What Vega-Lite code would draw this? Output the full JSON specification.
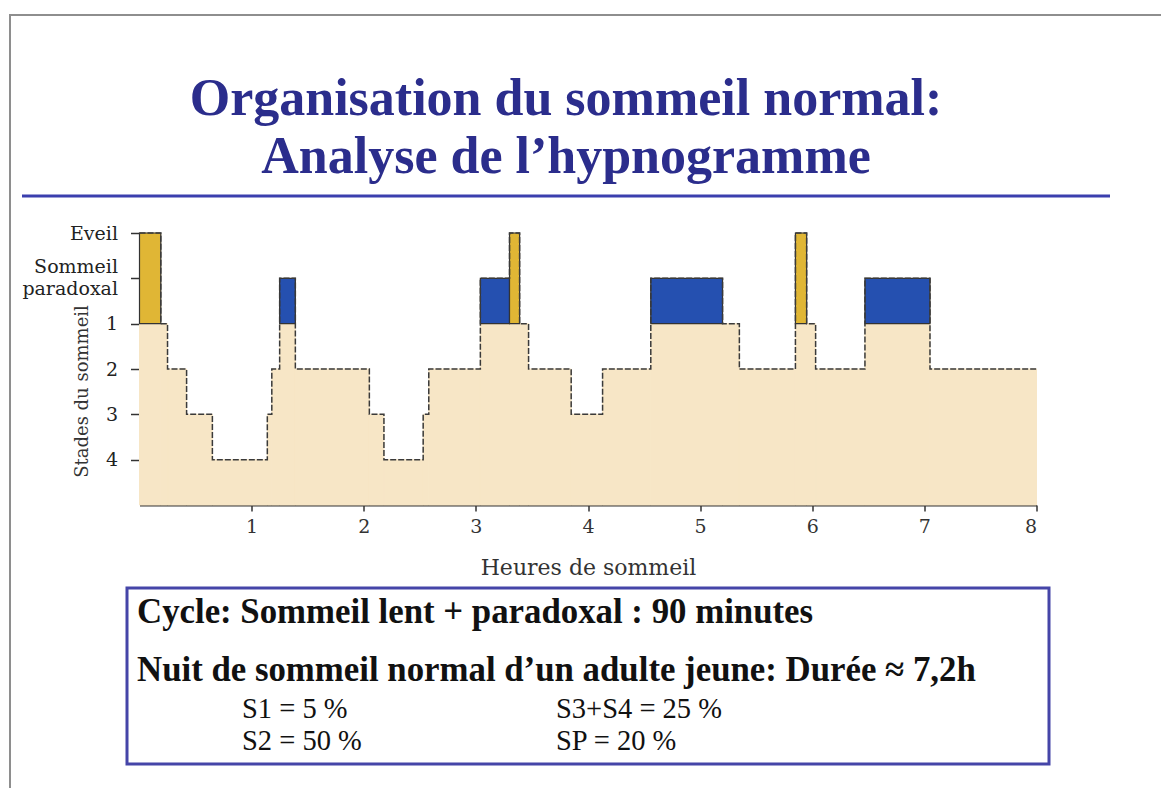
{
  "$schema": "https://vega.github.io/schema/vega-lite/v6.json",
  "autosize": {"type": "pad"},
  "padding": {"left": 7, "top": 12, "right": 0, "bottom": 0},
  "background": "white",
  "config": {"view": {"stroke": null}},
  "spacing": 0,
  "bounds": "flush",
  "vconcat": [
    {
      "width": 1154,
      "height": 2,
      "view": {"fill": "#8e8e8e", "stroke": null},
      "data": {"values": [{}]},
      "mark": {"type": "point", "opacity": 0},
      "encoding": {}
    },
    {
      "spacing": 0,
      "bounds": "flush",
      "hconcat": [
        {
          "width": 2,
          "height": 772,
          "view": {"fill": "#8e8e8e", "stroke": null},
          "data": {"values": [{}]},
          "mark": {"type": "point", "opacity": 0},
          "encoding": {}
        },
        {
          "width": 11,
          "height": 1,
          "data": {"values": []},
          "mark": {"type": "point", "opacity": 0},
          "encoding": {}
        },
        {
          "spacing": 35.5,
          "bounds": "flush",
          "vconcat": [
            {
              "width": 1,
              "height": 142.5,
              "data": {"values": []},
              "mark": {"type": "point", "opacity": 0},
              "encoding": {}
            },
            {
              "width": 1088,
              "height": 3,
              "view": {"fill": "#3b3fae", "stroke": null},
              "data": {"values": [{}]},
              "mark": {"type": "point", "opacity": 0},
              "encoding": {},
              "title": {
                "text": ["Organisation du sommeil normal:", "Analyse de l’hypnogramme"],
                "font": "Liberation Serif",
                "fontSize": 52,
                "fontWeight": "bold",
                "color": "#2b2d8c",
                "anchor": "middle",
                "lineHeight": 58,
                "offset": 9
              }
            },
            {
              "spacing": 0,
              "bounds": "flush",
              "hconcat": [
                {
                  "width": 105,
                  "height": 1,
                  "data": {"values": []},
                  "mark": {"type": "point", "opacity": 0},
                  "encoding": {}
                },
                {
                  "spacing": 83,
                  "center": true,
                  "bounds": "flush",
                  "vconcat": [
                    {
                      "width": 897,
                      "height": 272,
                      "data": {
                        "values": [
                          {"start": 0.00, "end": 0.19, "stage": "Eveil", "depth": 0},
                          {"start": 0.19, "end": 0.25, "stage": "S1", "depth": 2},
                          {"start": 0.25, "end": 0.42, "stage": "S2", "depth": 3},
                          {"start": 0.42, "end": 0.65, "stage": "S3", "depth": 4},
                          {"start": 0.65, "end": 1.14, "stage": "S4", "depth": 5},
                          {"start": 1.14, "end": 1.18, "stage": "S3", "depth": 4},
                          {"start": 1.18, "end": 1.25, "stage": "S2", "depth": 3},
                          {"start": 1.25, "end": 1.39, "stage": "SP", "depth": 1},
                          {"start": 1.39, "end": 2.05, "stage": "S2", "depth": 3},
                          {"start": 2.05, "end": 2.18, "stage": "S3", "depth": 4},
                          {"start": 2.18, "end": 2.53, "stage": "S4", "depth": 5},
                          {"start": 2.53, "end": 2.58, "stage": "S3", "depth": 4},
                          {"start": 2.58, "end": 3.04, "stage": "S2", "depth": 3},
                          {"start": 3.04, "end": 3.30, "stage": "SP", "depth": 1},
                          {"start": 3.30, "end": 3.39, "stage": "Eveil", "depth": 0},
                          {"start": 3.39, "end": 3.47, "stage": "S1", "depth": 2},
                          {"start": 3.47, "end": 3.85, "stage": "S2", "depth": 3},
                          {"start": 3.85, "end": 4.13, "stage": "S3", "depth": 4},
                          {"start": 4.13, "end": 4.56, "stage": "S2", "depth": 3},
                          {"start": 4.56, "end": 5.20, "stage": "SP", "depth": 1},
                          {"start": 5.20, "end": 5.35, "stage": "S1", "depth": 2},
                          {"start": 5.35, "end": 5.85, "stage": "S2", "depth": 3},
                          {"start": 5.85, "end": 5.95, "stage": "Eveil", "depth": 0},
                          {"start": 5.95, "end": 6.03, "stage": "S1", "depth": 2},
                          {"start": 6.03, "end": 6.47, "stage": "S2", "depth": 3},
                          {"start": 6.47, "end": 7.05, "stage": "SP", "depth": 1},
                          {"start": 7.05, "end": 8.00, "stage": "S2", "depth": 3}
                        ]
                      },
                      "encoding": {
                        "x": {
                          "field": "start",
                          "type": "quantitative",
                          "scale": {"domain": [0, 8], "nice": false, "zero": false},
                          "axis": {
                            "title": "Heures de sommeil",
                            "values": [1, 2, 3, 4, 5, 6, 7, 8],
                            "grid": false,
                            "domainColor": "#333333",
                            "domainWidth": 2,
                            "tickColor": "#333333",
                            "tickSize": 6,
                            "tickWidth": 1.5,
                            "labelFont": "DejaVu Serif",
                            "labelFontSize": 19,
                            "labelColor": "#333333",
                            "labelPadding": 6,
                            "titleFont": "DejaVu Serif",
                            "titleFontSize": 22,
                            "titleFontWeight": "normal",
                            "titleColor": "#333333",
                            "titleBaseline": "alphabetic",
                            "titleY": 69
                          }
                        },
                        "y": {
                          "field": "depth",
                          "type": "quantitative",
                          "scale": {"domain": [0, 6], "reverse": true, "nice": false, "zero": false},
                          "axis": {
                            "title": "Stades du sommeil",
                            "values": [0, 1, 2, 3, 4, 5],
                            "labelExpr": "datum.value == 0 ? 'Eveil' : datum.value == 1 ? ['Sommeil', 'paradoxal'] : '' + (datum.value - 1)",
                            "labelOffset": {"condition": {"test": "datum.value == 1", "value": -12}, "value": 0},
                            "grid": false,
                            "domain": false,
                            "tickColor": "#333333",
                            "tickSize": 9,
                            "tickWidth": 1.5,
                            "labelFont": "DejaVu Serif",
                            "labelFontSize": 19,
                            "labelLineHeight": 22,
                            "labelColor": "#222222",
                            "labelPadding": 13,
                            "titleFont": "DejaVu Serif",
                            "titleFontSize": 18,
                            "titleFontWeight": "normal",
                            "titleColor": "#333333",
                            "titleBaseline": "alphabetic",
                            "titleX": -52,
                            "titleY": 158
                          }
                        }
                      },
                      "layer": [
                        {
                          "mark": {"type": "rect", "fill": "#f7e6c6", "stroke": "#f7e6c6", "strokeWidth": 1},
                          "encoding": {
                            "x2": {"field": "end"},
                            "y2": {"datum": 6}
                          }
                        },
                        {
                          "transform": [{"filter": "datum.stage == 'Eveil' || datum.stage == 'SP'"}],
                          "mark": {"type": "rect", "stroke": "#333333", "strokeWidth": 1.2},
                          "encoding": {
                            "x2": {"field": "end"},
                            "y2": {"datum": 2},
                            "color": {
                              "field": "stage",
                              "type": "nominal",
                              "scale": {"domain": ["Eveil", "SP"], "range": ["#e0b635", "#2550b0"]},
                              "legend": null
                            }
                          }
                        },
                        {
                          "transform": [{"fold": ["start", "end"], "as": ["key", "t"]}],
                          "mark": {"type": "line", "color": "#3a3a3a", "strokeWidth": 1.5, "strokeDash": [6, 2]},
                          "encoding": {
                            "x": {"field": "t", "type": "quantitative"},
                            "order": [
                              {"field": "t", "type": "quantitative"},
                              {"field": "key", "type": "nominal"}
                            ]
                          }
                        }
                      ]
                    },
                    {
                      "width": 922,
                      "height": 176,
                      "view": {"stroke": "#4545a8", "strokeWidth": 3},
                      "data": {
                        "values": [
                          {"label": "Cycle: Sommeil lent + paradoxal : 90 minutes", "kind": "head", "line": 0, "col": 0},
                          {"label": "Nuit de sommeil normal d’un adulte jeune: Durée ≈ 7,2h", "kind": "head", "line": 1, "col": 0},
                          {"label": "S1 = 5 %", "kind": "stat", "line": 2, "col": 1},
                          {"label": "S3+S4 = 25 %", "kind": "stat", "line": 2, "col": 2},
                          {"label": "S2 = 50 %", "kind": "stat", "line": 3, "col": 1},
                          {"label": "SP = 20 %", "kind": "stat", "line": 3, "col": 2}
                        ]
                      },
                      "encoding": {
                        "x": {"field": "col", "type": "quantitative", "scale": {"domain": [0, 1, 2], "range": [10, 115, 429]}, "axis": null},
                        "y": {"field": "line", "type": "quantitative", "scale": {"domain": [0, 1, 2, 3], "range": [35, 93, 130, 162]}, "axis": null},
                        "text": {"field": "label"}
                      },
                      "layer": [
                        {
                          "transform": [{"filter": "datum.kind == 'head'"}],
                          "mark": {"type": "text", "font": "Liberation Serif", "fontSize": 34.8, "fontWeight": "bold", "align": "left", "baseline": "alphabetic", "color": "#111111"}
                        },
                        {
                          "transform": [{"filter": "datum.kind == 'stat'"}],
                          "mark": {"type": "text", "font": "Liberation Serif", "fontSize": 28.5, "align": "left", "baseline": "alphabetic", "color": "#111111"}
                        }
                      ]
                    }
                  ]
                }
              ]
            }
          ]
        }
      ]
    }
  ]
}
